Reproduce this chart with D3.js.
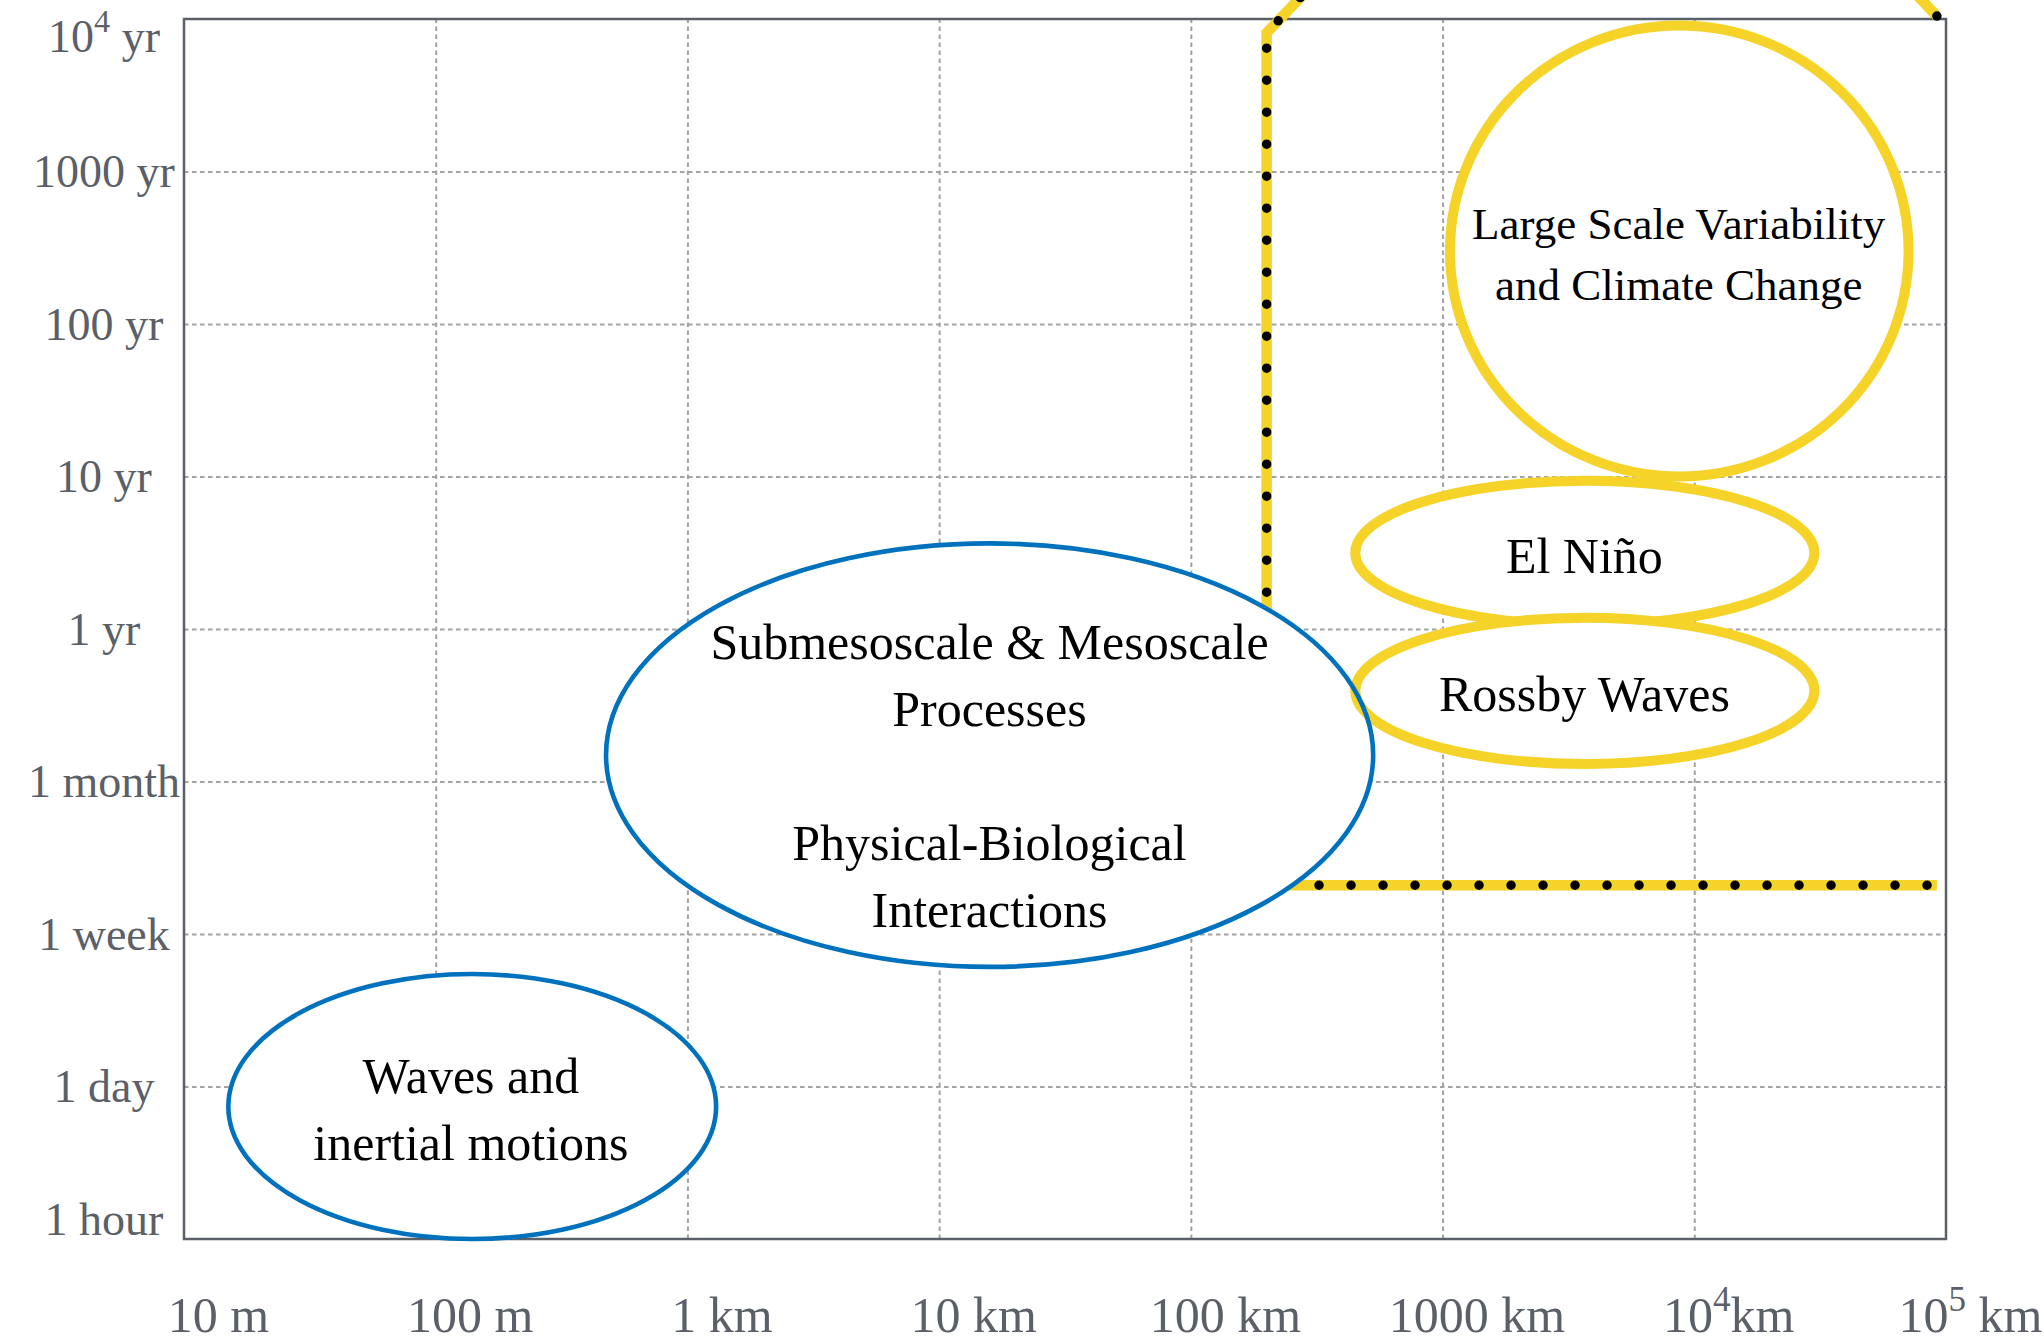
<!DOCTYPE html>
<html>
<head>
<meta charset="utf-8">
<script src="https://cdn.jsdelivr.net/npm/d3@7"></script>
<style>
  body { margin: 0; background: #fff; }
  svg { display: block; }
</style>
</head>
<body>
<script>
/* Axis ticks: horizontal scale in metres, time scale in days */
var scaleTicks = [10, 100, 1e3, 1e4, 1e5, 1e6, 1e7, 1e8];
var scaleLabels = ["10 m", "100 m", "1 km", "10 km", "100 km", "1000 km", "10^4km", "10^5 km"];
var timeTicks = [1 / 24, 1, 7, 30.44, 365.25, 3652.5, 36525, 365250, 3652500];
var timeLabels = ["1 hour", "1 day", "1 week", "1 month", "1 yr", "10 yr", "100 yr", "1000 yr", "10^4 yr"];

/* Processes drawn as ellipses, extents in metres and days */
var regionNames = [
    "Waves and\ninertial motions",
    "Submesoscale & Mesoscale\nProcesses\n\nPhysical-Biological\nInteractions",
    "Large Scale Variability\nand Climate Change",
    "El Niño",
    "Rossby Waves"
];
var regionGroup = ["ocean", "ocean", "climate", "climate", "climate"];
var regionScaleMin = [15, 475, 1.07e6, 4.5e5, 4.5e5];
var regionScaleMax = [1300, 5.3e5, 7.1e7, 3.0e7, 3.0e7];
var regionTimeMin = [1 / 24, 4.6, 3650, 388, 40.5];
var regionTimeMax = [4.2, 1330, 3.31e6, 3425, 433];

/* Where each label sits (metres, days) */
var labelScale = [138, 15850, 8.67e6, 3.66e6, 3.66e6];
var labelTime = [0.661, 35.2, 109000, 1155, 133.4];

/* Dotted bracket, from its top right end round to its bottom right end */
var bracketScale = [9.2e7, 5.9e7, 3.6e5, 2e5, 2e5, 9.2e7];
var bracketTime = [3.82e6, 8.2e6, 8.2e6, 2.96e6, 11.2, 11.2];
// index of the corner where the bracket turns to run right
const CORNER = 4;

var YELLOW = "#f5d328",
    BLUE = "#0072bd",
    AXIS = "#5b5f67",
    GRID = "#a3a3a3",
    FONT = "'Liberation Serif', 'Times New Roman', serif";

const W = 2044, H = 1343;
var margin = {top: 19, right: 98, bottom: 104, left: 184},
    width = W - margin.left - margin.right,
    height = H - margin.top - margin.bottom;

var x = d3.scaleLog()
    .domain([scaleTicks[0], scaleTicks[scaleTicks.length - 1]])
    .range([0, width]);

// time axis: evenly spaced ticks, log in between
var y = d3.scaleLog()
    .domain(timeTicks)
    .range(timeTicks.map(function(d, i) { return height - i * height / (timeTicks.length - 1); }));

var root = d3.select("body").append("svg")
    .attr("width", W)
    .attr("height", H);

root.append("rect").attr("width", W).attr("height", H).attr("fill", "#fff");

var svg = root.append("g")
    .attr("transform", "translate(" + margin.left + "," + margin.top + ")");

// grid
var gx = svg.append("g")
    .attr("transform", "translate(0," + height + ")")
    .call(d3.axisBottom(x).tickValues(scaleTicks.slice(1, -1)).tickSize(-height).tickFormat(""));
var gy = svg.append("g")
    .call(d3.axisLeft(y).tickValues(timeTicks.slice(1, -1)).tickSize(-width).tickFormat(""));
[gx, gy].forEach(function(g) {
    g.select(".domain").remove();
    g.selectAll(".tick line")
        .attr("stroke", GRID)
        .attr("stroke-width", 2)
        .attr("stroke-dasharray", "4.5,3.5");
});

// box
svg.append("rect")
    .attr("width", width)
    .attr("height", height)
    .attr("fill", "none")
    .attr("stroke", AXIS)
    .attr("stroke-width", 2.5);

/**
 * Writes a label, turning "10^4" into a raised exponent
 */
function writeLabel(sel, str, size) {
    sel.text(null);
    var m = str.match(/^(.*?)\^(\d)(.*)$/);
    if (!m) { sel.text(str); return; }
    var lift = size * 0.42;
    sel.append("tspan").text(m[1]);
    sel.append("tspan").attr("font-size", size * 0.7).attr("dy", -lift).text(m[2]);
    sel.append("tspan").attr("dy", lift).text(m[3]);
}

// x tick labels
var ax = svg.append("g")
    .attr("transform", "translate(0," + height + ")")
    .call(d3.axisBottom(x).tickValues(scaleTicks).tickSize(0).tickFormat(""));
ax.select(".domain").remove();
ax.attr("font-family", FONT).attr("font-size", 50);
ax.selectAll(".tick text")
    .attr("y", 93)
    .attr("dy", 0)
    .attr("dx", 34)
    .attr("fill", AXIS)
    .attr("text-anchor", "middle")
    .each(function(d, i) {
        writeLabel(d3.select(this), scaleLabels[i], 50);
        // keep the last label inside the page
        var b = this.getBBox();
        var over = margin.left + x(d) + b.x + b.width - (W - 2);
        if (over > 0) d3.select(this).attr("dx", 34 - over);
    });

// y tick labels, the two end ones pulled inwards
var ay = svg.append("g")
    .call(d3.axisLeft(y).tickValues(timeTicks).tickSize(0).tickFormat(""));
ay.select(".domain").remove();
ay.attr("font-family", FONT).attr("font-size", 46);
ay.selectAll(".tick text")
    .attr("x", -80)
    .attr("dy", function(d, i) {
        if (i === 0) return -20 + 15;
        if (i === timeTicks.length - 1) return 17 + 15;
        return 15;
    })
    .attr("fill", AXIS)
    .attr("text-anchor", "middle")
    .each(function(d, i) { writeLabel(d3.select(this), timeLabels[i], 46); });

// dotted bracket
var bracket = bracketScale.map(function(s, i) { return [x(s), y(bracketTime[i])]; });
var line = d3.line();
svg.append("path")
    .attr("d", line(bracket))
    .attr("fill", "none")
    .attr("stroke", YELLOW)
    .attr("stroke-width", 10.5)
    .attr("stroke-linejoin", "miter");
[[bracket.slice(0, CORNER + 1), 0], [bracket.slice(CORNER), 11.6]].forEach(function(part) {
    svg.append("path")
        .attr("d", line(part[0]))
        .attr("fill", "none")
        .attr("stroke", "#000")
        .attr("stroke-width", 9.5)
        .attr("stroke-linecap", "round")
        .attr("stroke-dasharray", "0,32")
        .attr("stroke-dashoffset", part[1]);
});

var regions = regionNames.map(function(name, i) {
    var x0 = x(regionScaleMin[i]), x1 = x(regionScaleMax[i]),
        y0 = y(regionTimeMax[i]), y1 = y(regionTimeMin[i]);
    return {
        name: name,
        group: regionGroup[i],
        cx: (x0 + x1) / 2, cy: (y0 + y1) / 2,
        rx: (x1 - x0) / 2, ry: (y1 - y0) / 2,
        lx: x(labelScale[i]), ly: y(labelTime[i]),
        size: i === 2 ? 45 : 50
    };
});
var ocean = regions.filter(function(r) { return r.group === "ocean"; });
var climate = regions.filter(function(r) { return r.group === "climate"; });

// white backs of the blue ellipses hide the bracket
svg.selectAll(".ocean-back")
    .data(ocean)
    .enter().append("ellipse")
    .attr("class", "ocean-back")
    .attr("cx", function(r) { return r.cx; })
    .attr("cy", function(r) { return r.cy; })
    .attr("rx", function(r) { return r.rx; })
    .attr("ry", function(r) { return r.ry; })
    .attr("fill", "#fff");

svg.selectAll(".climate")
    .data(climate)
    .enter().append("ellipse")
    .attr("class", "climate")
    .attr("cx", function(r) { return r.cx; })
    .attr("cy", function(r) { return r.cy; })
    .attr("rx", function(r) { return r.rx; })
    .attr("ry", function(r) { return r.ry; })
    .attr("fill", "#fff")
    .attr("stroke", YELLOW)
    .attr("stroke-width", 10);

svg.selectAll(".ocean")
    .data(ocean)
    .enter().append("ellipse")
    .attr("class", "ocean")
    .attr("cx", function(r) { return r.cx; })
    .attr("cy", function(r) { return r.cy; })
    .attr("rx", function(r) { return r.rx; })
    .attr("ry", function(r) { return r.ry; })
    .attr("fill", "none")
    .attr("stroke", BLUE)
    .attr("stroke-width", 4.6);

// labels
regions.forEach(function(r) {
    var lines = r.name.split("\n");
    var lh = r.size * 1.34;
    var first = r.ly + r.size * 0.4 - (lines.length - 1) / 2 * lh;
    var t = svg.append("text")
        .attr("font-family", FONT)
        .attr("font-size", r.size)
        .attr("fill", "#000")
        .attr("text-anchor", "middle");
    lines.forEach(function(l, k) {
        t.append("tspan")
            .attr("x", r.lx)
            .attr("y", first + k * lh)
            .text(l);
    });
});
</script>
</body>
</html>
